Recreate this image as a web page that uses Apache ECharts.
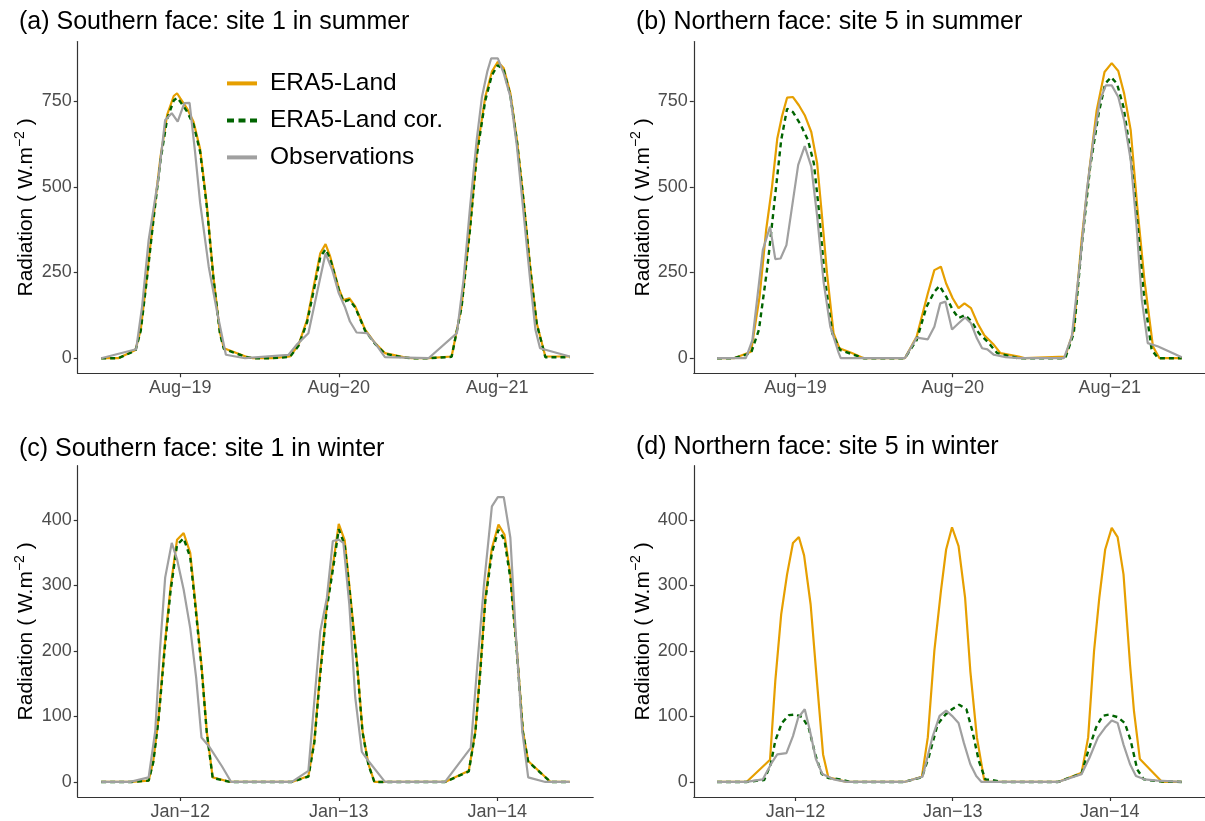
<!DOCTYPE html>
<html>
<head>
<meta charset="utf-8">
<script src="https://cdn.jsdelivr.net/npm/echarts@6/dist/echarts.min.js"></script>
<style>
  html, body { margin: 0; background: #fff; }
  #main { width: 1205px; height: 821px; }
</style>
</head>
<body>
<div id="main"></div>
<script>
// x = hours from the first record, ticks sit on the day labels
var tickHours = [12, 36, 60];
var summerDays = ['Aug\u221219', 'Aug\u221220', 'Aug\u221221'];
var winterDays = ['Jan\u221212', 'Jan\u221213', 'Jan\u221214'];
var summerTicks = [0, 250, 500, 750];
var winterTicks = [0, 100, 200, 300, 400];
var seriesNames = ['ERA5-Land', 'ERA5-Land cor.', 'Observations'];

// (a) southern face, site 1, summer
var sumSouthEra = [[0,0],[2.6,0],[5.2,24],[6,83],[7,248],[8,423],[9,588],[10,710],[11,765],[11.5,773],[12,758],[13,729],[14,690],[15,610],[16,450],[17,240],[18,75],[18.6,29],[20,19],[21.9,5],[23,0],
  [25.9,0],[28.6,5],[29.9,39],[31.2,112],[32.4,228],[33.2,306],[34,333],[34.7,297],[36,204],[36.7,170],[37.6,175],[38.5,151],[40,83],[41.5,44],[43,15],[45.8,3],[47,0],
  [49.6,0],[53.1,5],[54.6,151],[55.9,384],[56.9,598],[58.2,763],[59.2,836],[60.1,865],[61,846],[62,773],[63,637],[64,462],[65,267],[66,102],[67.3,5],[71,5]];
var sumSouthCor = [[0,0],[2.6,0],[5.2,22],[6,80],[7,242],[8,416],[9,578],[10,698],[11,752],[11.5,760],[12,748],[13,720],[14,682],[15,602],[16,444],[17,236],[18,72],[18.6,27],[20,17],[21.9,4],[23,0],
  [25.9,0],[28.6,4],[29.9,36],[31.2,105],[32.4,215],[33.2,295],[34,318],[34.7,290],[36,200],[36.7,165],[37.6,170],[38.5,148],[40,80],[41.5,42],[43,13],[45.8,2],[47,0],
  [49.6,0],[53.1,4],[54.6,148],[55.9,378],[56.9,590],[58.2,752],[59.2,826],[60.1,855],[61,840],[62,766],[63,632],[64,458],[65,263],[66,100],[67.3,3],[71,3]];
var sumSouthObs = [[0,0],[5.3,26],[6.2,150],[7.2,345],[8.7,530],[9.7,695],[10.7,715],[11.6,690],[12.6,744],[13.4,745],[14.2,607],[15,453],[16.3,267],[17.6,132],[18.9,10],[21.8,0],
  [28.4,10],[29.6,39],[31.4,73],[32.7,190],[34,306],[35,258],[36,190],[36.9,151],[37.7,107],[38.7,75],[40.3,73],[41.5,44],[43,3],[49.6,0],
  [53.9,73],[54.9,228],[55.9,442],[56.9,637],[57.7,763],[58.5,836],[59.1,875],[60.1,875],[61,831],[62,763],[63,617],[64,423],[65,228],[65.8,83],[66.5,29],[71,5]];

// (b) northern face, site 5, summer
var sumNorthEra = [[0,0],[2.6,0],[5.2,19],[6.5,180],[7.5,374],[8.4,500],[9.2,640],[9.9,704],[10.7,760],[11.6,762],[12.5,738],[13.4,709],[14.4,660],[15.3,568],[16,422],[16.8,248],[17.8,73],[18.7,29],[20.6,15],[22.4,0],
  [28.7,0],[30.5,63],[32.2,189],[33.2,257],[34.2,267],[35,218],[36,175],[36.9,146],[37.8,160],[38.8,146],[39.8,102],[40.8,68],[42.3,39],[43.3,15],[46.1,5],[47.1,0],
  [53.2,5],[54.5,83],[55.7,345],[57,568],[58,723],[59.2,835],[60.3,861],[61.3,838],[62.2,772],[63.2,665],[64.2,442],[65.3,228],[66.6,34],[67.6,0],[71,0]];
var sumNorthCor = [[0,0],[2.6,0],[5.2,15],[6.4,83],[7.7,267],[8.8,461],[9.8,636],[10.7,728],[11.6,718],[12.7,684],[13.9,636],[14.8,568],[15.5,442],[16.5,228],[17.6,73],[18.8,24],[22.4,0],
  [28.7,0],[30.5,53],[32,150],[33.2,194],[34,211],[35,180],[36,141],[36.9,117],[37.9,126],[38.9,107],[40,73],[41.3,49],[42.8,15],[46,0],
  [53.2,0],[54.5,73],[55.7,325],[57,558],[58.3,714],[59.3,801],[60.2,820],[61.1,801],[62.1,733],[63.1,607],[64.1,422],[65.2,189],[66.4,24],[67.4,0],[71,0]];
var sumNorthObs = [[0,0],[4.4,0],[5.4,53],[7,316],[8.1,384],[8.9,289],[9.7,291],[10.6,330],[12.4,564],[13.4,619],[14.4,559],[15.3,413],[16.3,220],[17.3,92],[18.6,15],[18.9,0],
  [28.7,0],[30.5,60],[32.2,55],[33.2,92],[34.1,160],[34.9,165],[35.9,84],[36.9,102],[37.9,119],[38.8,102],[39.7,58],[40.5,29],[41.3,26],[42.3,10],[44.1,3],[46.1,0],
  [53,0],[54.2,63],[55.5,286],[56.5,490],[57.5,636],[58.5,752],[59.4,796],[60.3,796],[61.3,762],[62.2,694],[63.2,578],[64.1,384],[64.9,170],[65.8,44],[67.4,34],[71,3]];

// (c) southern face, site 1, winter
var winSouthEra = [[0,0],[4.6,0],[7.2,2],[7.9,32],[8.7,98],[9.6,205],[10.5,296],[11.5,370],[12.5,380],[13.5,350],[14.2,281],[15.2,179],[16,78],[16.9,7],[19.6,0],
  [28.9,0],[31.4,9],[32.3,63],[33.2,169],[34.2,271],[35.2,337],[36,394],[36.9,369],[37.7,291],[38.8,179],[39.6,78],[40.5,27],[41.4,0],
  [52.1,0],[55.7,17],[56.7,78],[57.5,179],[58.2,281],[59.2,357],[60.2,393],[61.1,378],[62,317],[63,200],[63.9,78],[64.7,32],[68.1,0],[71,0]];
var winSouthCor = [[0,0],[4.6,0],[7.2,2],[7.9,30],[8.7,95],[9.6,200],[10.5,290],[11.5,362],[12.5,372],[13.5,343],[14.2,276],[15.2,176],[16,76],[16.9,6],[19.6,0],
  [28.9,0],[31.4,8],[32.3,60],[33.2,165],[34.2,266],[35.2,330],[36,386],[36.9,362],[37.7,286],[38.8,176],[39.6,76],[40.5,26],[41.4,0],
  [52.1,0],[55.7,16],[56.7,76],[57.5,176],[58.2,276],[59.2,350],[60.2,385],[61.1,370],[62,311],[63,196],[63.9,76],[64.7,31],[68.1,0],[71,0]];
var winSouthObs = [[0,0],[4.4,0],[7.2,7],[8.2,78],[8.9,200],[9.7,312],[10.7,365],[11.5,340],[12.5,294],[13.5,235],[14.4,159],[15.2,68],[16.3,55],[18.3,24],[19.7,0],
  [28.9,0],[31.4,17],[33.2,230],[34.2,281],[35.1,368],[36,370],[36.7,365],[37.6,271],[38.5,129],[39.5,46],[40.5,32],[43,0],
  [52.1,0],[56,52],[57,179],[58,301],[59.2,421],[60.1,435],[61,435],[62,373],[62.8,230],[63.8,78],[64.7,7],[67.3,0],[71,0]];

// (d) northern face, site 5, winter
var winNorthEra = [[0,0],[4.5,0],[8.1,34],[8.9,154],[9.8,256],[10.7,317],[11.6,365],[12.5,374],[13.3,346],[14.3,271],[15.3,149],[16.2,42],[17,7],[19.8,0],
  [28.6,0],[31.3,8],[32.2,68],[33.2,200],[34.2,291],[35,355],[35.9,389],[36.9,360],[37.9,281],[38.7,169],[39.7,68],[40.8,4],[41.3,0],
  [52.1,0],[55.7,14],[56.7,68],[57.6,200],[58.4,281],[59.3,355],[60.3,388],[61.2,374],[62.1,317],[63.1,179],[63.7,108],[64.6,35],[68,0],[71,0]];
var winNorthCor = [[0,0],[4.5,0],[7.2,3],[8.2,27],[8.9,63],[9.9,90],[11,102],[12,103],[13,99],[14,83],[15,42],[16,12],[17,6],[18.8,4],[20.3,0],
  [28.6,0],[31.3,7],[32.4,40],[33.7,88],[34.9,103],[35.9,111],[37,118],[38.1,111],[39,78],[40,32],[41,4],[42,3],[43.5,0],
  [52.1,0],[55.7,13],[56.7,47],[57.9,83],[58.9,101],[59.9,103],[61.2,99],[62.3,90],[63.2,63],[64.2,19],[65.2,4],[67.3,1],[71,0]];
var winNorthObs = [[0,0],[4.5,0],[7,4],[8.4,30],[9.2,42],[10.6,44],[11.6,70],[12.4,98],[13.4,111],[14.2,78],[15.1,35],[16.1,12],[17.8,4],[19.8,0],
  [28.6,0],[31.4,8],[32.9,68],[34,101],[35,109],[35.9,101],[36.9,90],[37.7,60],[38.7,27],[39.6,9],[40.4,0],
  [52.1,0],[55.7,12],[56.9,37],[58.2,68],[59.3,83],[60.3,94],[61.2,90],[62.1,57],[63.1,27],[64,9],[65.3,4],[67.3,2],[71,0]];

var font = 'Liberation Sans, Arial, sans-serif';
var colors = ['#E69F00', '#006400', '#A0A0A0'];

var panels = [
  { title: '(a) Southern face: site 1 in summer', tx: 19, ty: 7.5, left: 77.7, top: 41.5, width: 515.5, height: 331.8,
    ymin: -44, ymax: 924, yticks: summerTicks, days: summerDays, data: [sumSouthEra, sumSouthCor, sumSouthObs] },
  { title: '(b) Northern face: site 5 in summer', tx: 636, ty: 7.5, left: 693.8, top: 41.5, width: 516.2, height: 331.8,
    ymin: -44, ymax: 924, yticks: summerTicks, days: summerDays, data: [sumNorthEra, sumNorthCor, sumNorthObs] },
  { title: '(c) Southern face: site 1 in winter', tx: 19, ty: 434, left: 77.7, top: 465.7, width: 515.5, height: 332,
    ymin: -23, ymax: 483, yticks: winterTicks, days: winterDays, data: [winSouthEra, winSouthCor, winSouthObs] },
  { title: '(d) Northern face: site 5 in winter', tx: 636, ty: 432, left: 693.8, top: 465.7, width: 516.2, height: 332,
    ymin: -23, ymax: 483, yticks: winterTicks, days: winterDays, data: [winNorthEra, winNorthCor, winNorthObs] }
];

var option = {
  animation: false,
  backgroundColor: '#fff',
  textStyle: { fontFamily: font },
  title: [],
  grid: [],
  xAxis: [],
  yAxis: [],
  series: [],
  legend: {
    data: seriesNames,
    orient: 'vertical',
    left: 220,
    top: 65.4,
    itemWidth: 30,
    itemHeight: 14,
    itemGap: 11,
    selectedMode: false,
    lineStyle: { width: 4 },
    itemStyle: { color: 'rgba(0,0,0,0)', borderWidth: 0, opacity: 0 },
    textStyle: { fontSize: 24.5, color: '#000', fontFamily: font, lineHeight: 26, padding: [0, 0, 0, 8] }
  }
};

// empty key series first, so the legend takes its dash pattern from them
seriesNames.forEach(function (n, k) {
  option.series.push({
    name: n, type: 'line', xAxisIndex: 0, yAxisIndex: 0, data: [], symbol: 'none',
    lineStyle: { color: colors[k], width: 4, type: k === 1 ? [7, 4.5] : 'solid' },
    itemStyle: { color: colors[k] }
  });
});

panels.forEach(function (p, i) {
  option.title.push({
    text: p.title, left: p.tx, top: p.ty, padding: 0,
    textStyle: { fontSize: 25, fontWeight: 'normal', color: '#000', fontFamily: font, lineHeight: 30 }
  });
  option.grid.push({ left: p.left, top: p.top, width: p.width, height: p.height, containLabel: false });
  var days = p.days;
  option.xAxis.push({
    type: 'value', gridIndex: i, min: -3.55, max: 74.55,
    splitLine: { show: false },
    axisLine: { onZero: false, lineStyle: { color: '#333', width: 1.2 } },
    axisTick: { customValues: tickHours, length: 4, lineStyle: { color: '#333', width: 1.2 } },
    axisLabel: {
      customValues: tickHours, margin: 6, fontSize: 18, color: '#4D4D4D', fontFamily: font,
      formatter: function (v) { return days[tickHours.indexOf(v)]; }
    }
  });
  option.yAxis.push({
    type: 'value', gridIndex: i, min: p.ymin, max: p.ymax,
    splitLine: { show: false },
    axisLine: { show: true, onZero: false, lineStyle: { color: '#333', width: 1.2 } },
    axisTick: { show: true, customValues: p.yticks, length: 4, lineStyle: { color: '#333', width: 1.2 } },
    axisLabel: { customValues: p.yticks, margin: 6, fontSize: 18, color: '#4D4D4D', fontFamily: font },
    name: '{t|Radiation ( W.m}{s|\u22122}{t| )}',
    nameLocation: 'middle', nameRotate: 90, nameGap: 37, nameMoveOverlap: false,
    nameTextStyle: {
      rich: {
        t: { fontSize: 21, color: '#000', fontFamily: font, lineHeight: 28 },
        s: { fontSize: 14, color: '#000', fontFamily: font, lineHeight: 16, verticalAlign: 'top' }
      }
    }
  });
  p.data.forEach(function (d, k) {
    option.series.push({
      name: seriesNames[k], type: 'line', xAxisIndex: i, yAxisIndex: i,
      data: d, symbol: 'none', z: k === 2 ? 4 : (k === 1 ? 3 : 2),
      lineStyle: k === 1
        ? { color: colors[k], width: 2.4, type: [5, 4] }
        : { color: colors[k], width: 2.2 },
      itemStyle: { color: colors[k] }
    });
  });
});

var chart = echarts.init(document.getElementById('main'));
chart.setOption(option);
</script>
</body>
</html>
